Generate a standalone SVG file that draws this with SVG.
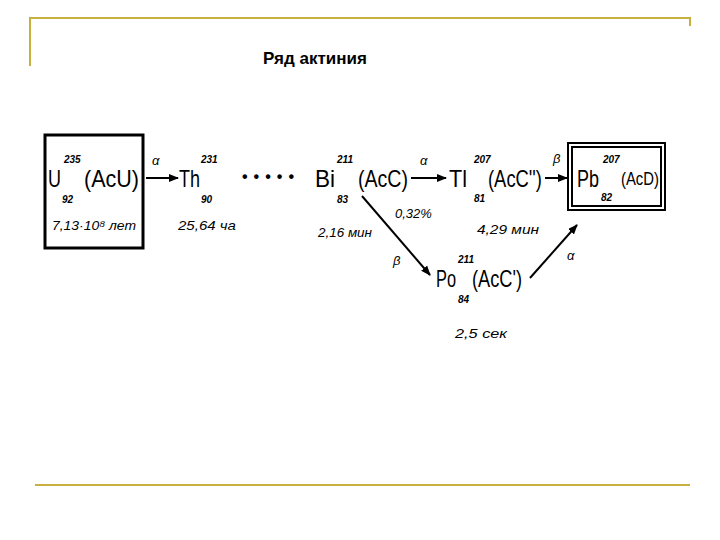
<svg xmlns="http://www.w3.org/2000/svg" width="720" height="540" viewBox="0 0 720 540">
<defs>
<marker id="ah" markerWidth="10" markerHeight="8" refX="9" refY="4" orient="auto" markerUnits="userSpaceOnUse"><path d="M0,0 L10,4 L0,8 Z" fill="#000"/></marker>
<style>
.fr{stroke:#c8b040;stroke-width:2;fill:none}
.t{font-family:"Liberation Sans",sans-serif;fill:#000}
.b{font-size:24px}
.s{font-size:10px;font-style:italic;font-weight:bold}
.i{font-size:13px;font-style:italic}
.c{stroke:#000;stroke-width:2;fill:none;marker-end:url(#ah)}
</style>
</defs>
<rect width="720" height="540" fill="#fff"/>
<path class="fr" d="M30,66 V18 H690 V26"/>
<path class="fr" d="M35,485 H690"/>
<text x="263" y="64" class="t" style="font-size:17px;font-weight:bold">Ряд актиния</text>
<g id="connectors">
<line class="c" x1="146" y1="178" x2="178" y2="178"/>
<line class="c" x1="411" y1="178" x2="446" y2="178"/>
<line class="c" x1="545" y1="178" x2="567" y2="178"/>
<line class="c" x1="362" y1="196" x2="430" y2="275"/>
<line class="c" x1="530" y1="278" x2="577" y2="225"/>
<text x="152" y="165" class="t i">α</text>
<text x="420" y="165" class="t i">α</text>
<text x="553" y="163" class="t i">β</text>
<text x="393" y="265" class="t i">β</text>
<text x="567" y="260" class="t i">α</text>
<text x="242" y="182" class="t" style="font-size:16px;font-weight:bold" textLength="52" lengthAdjust="spacing">• • • • •</text>
</g>
<g id="U">
<rect x="45" y="135" width="98" height="113" fill="none" stroke="#000" stroke-width="3"/>
<text x="48" y="187" class="t b" textLength="13" lengthAdjust="spacingAndGlyphs">U</text><text x="64" y="163" class="t s">235</text><text x="62" y="203" class="t s">92</text>
<text x="84" y="187" class="t b" textLength="55" lengthAdjust="spacingAndGlyphs">(AcU)</text>
<text x="52" y="230" class="t i" textLength="84" lengthAdjust="spacingAndGlyphs">7,13·10⁸ лет</text>
</g>
<g id="Th">
<text x="179" y="187" class="t b" textLength="21" lengthAdjust="spacingAndGlyphs">Th</text><text x="201" y="163" class="t s">231</text><text x="201" y="203" class="t s">90</text>
<text x="178" y="230" class="t i" textLength="58" lengthAdjust="spacingAndGlyphs">25,64 ча</text>
</g>
<g id="Bi">
<text x="315" y="187" class="t b" textLength="20" lengthAdjust="spacingAndGlyphs">Bi</text><text x="337" y="163" class="t s">211</text><text x="337" y="203" class="t s">83</text>
<text x="358" y="187" class="t b" textLength="50" lengthAdjust="spacingAndGlyphs">(AcC)</text>
<text x="318" y="237" class="t i" textLength="54" lengthAdjust="spacingAndGlyphs">2,16 мин</text>
<text x="395" y="218" class="t i">0,32%</text>
</g>
<g id="Tl">
<text x="449" y="187" class="t b" textLength="18" lengthAdjust="spacingAndGlyphs">Tl</text><text x="474" y="163" class="t s">207</text><text x="474" y="202" class="t s">81</text>
<text x="488" y="187" class="t b" textLength="54" lengthAdjust="spacingAndGlyphs">(AcC'')</text>
<text x="477" y="234" class="t i" textLength="62" lengthAdjust="spacingAndGlyphs">4,29 мин</text>
</g>
<g id="Pb">
<rect x="568" y="143" width="97" height="67" fill="none" stroke="#000" stroke-width="2"/>
<rect x="572" y="147" width="89" height="59" fill="none" stroke="#000" stroke-width="2"/>
<text x="577" y="187" class="t b" textLength="22" lengthAdjust="spacingAndGlyphs">Pb</text><text x="603" y="163" class="t s">207</text><text x="601" y="201" class="t s">82</text>
<text x="621" y="185" class="t" style="font-size:19px" textLength="38" lengthAdjust="spacingAndGlyphs">(AcD)</text>
</g>
<g id="Po">
<text x="436" y="287" class="t b" textLength="20" lengthAdjust="spacingAndGlyphs">Po</text><text x="458" y="263" class="t s">211</text><text x="458" y="303" class="t s">84</text>
<text x="472" y="287" class="t b" textLength="50" lengthAdjust="spacingAndGlyphs">(AcC')</text>
<text x="455" y="338" class="t i" textLength="52" lengthAdjust="spacingAndGlyphs">2,5 сек</text>
</g>
</svg>
